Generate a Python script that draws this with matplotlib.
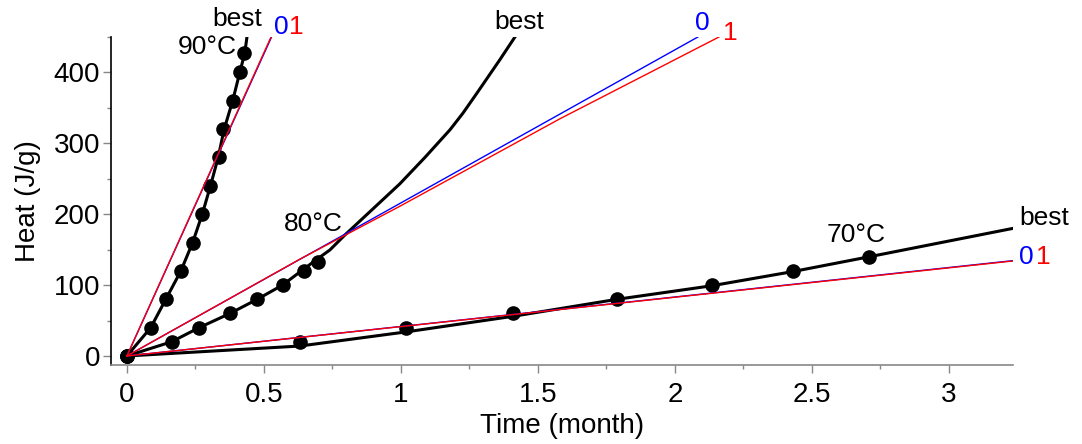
import matplotlib
matplotlib.use("Agg")
import matplotlib.pyplot as plt
from matplotlib.ticker import MultipleLocator

plt.rcParams['font.family'] = ['Liberation Sans', 'DejaVu Sans']

# measured points (time in month, heat in J/g)
t90 = [0, 0.0865, 0.142, 0.197, 0.24, 0.275, 0.305, 0.336, 0.351, 0.386, 0.412, 0.428]
h90 = [0, 40, 80, 120, 160, 200, 240, 280, 320, 360, 400, 427]
t80 = [0, 0.163, 0.264, 0.376, 0.476, 0.568, 0.647, 0.696]
h80 = [0, 20, 40, 60, 80, 100, 120, 132]
t70 = [0, 0.631, 1.018, 1.41, 1.79, 2.134, 2.43, 2.71]
h70 = [0, 20, 40, 60, 80, 100, 120, 140]

# "best" model curves
best90_t = [0, 0.087, 0.142, 0.197, 0.24, 0.275, 0.305, 0.333, 0.355, 0.386, 0.412, 0.430, 0.440]
best90_h = [0, 40, 80, 120, 160, 200, 240, 280, 320, 360, 400, 427, 455]
best80_t = [0, 0.163, 0.264, 0.376, 0.476, 0.568, 0.647, 0.694, 0.741, 0.796, 0.898, 0.996,
            1.088, 1.179, 1.226, 1.277, 1.361, 1.43]
best80_h = [0, 20, 40, 60, 80, 100, 123, 136.5, 149.6, 170.8, 207.5, 242.8,
            280.2, 319, 342.3, 370.5, 417.8, 458]
best70_t = [0, 0.181, 0.631, 1.02, 1.41, 1.79, 2.134, 2.43, 2.71, 3.234]
best70_h = [0, 4, 14, 34, 56, 80, 99, 119, 140, 180]

# model 0 (blue) and model 1 (red)
m0_90_t = [0, 0.528]
m0_90_h = [0, 450]
m1_90_t = [0, 0.526]
m1_90_h = [0, 450]
m0_80_t = [0, 2.084]
m0_80_h = [0, 450]
m1_80_t = [0, 0.631, 1.0, 1.58, 2.161]
m1_80_h = [0, 136.5, 212, 334.5, 450]
m0_70_t = [0, 3.234]
m0_70_h = [0, 134.5]
m1_70_t = [0, 3.234]
m1_70_h = [0, 134.0]

fig = plt.figure(figsize=(10.82, 4.44), dpi=100)
ax = fig.add_axes([0.1026, 0.178, 0.8336, 0.7387])

for bt, bh in [(best90_t, best90_h), (best80_t, best80_h), (best70_t, best70_h)]:
    ax.plot(bt, bh, color='black', lw=2.2, zorder=2)
for tt, hh in [(t90, h90), (t80, h80), (t70, h70)]:
    ax.plot(tt, hh, 'o', color='black', ms=9.5, zorder=3)

for mt, mh in [(m0_90_t, m0_90_h), (m0_80_t, m0_80_h), (m0_70_t, m0_70_h)]:
    ax.plot(mt, mh, color='blue', lw=1.0, zorder=4)
for mt, mh in [(m1_90_t, m1_90_h), (m1_80_t, m1_80_h), (m1_70_t, m1_70_h)]:
    ax.plot(mt, mh, color='red', lw=1.0, zorder=5)

fs = 19
# labels
ax.text(0.403, 475, 'best', fontsize=fs, ha='center', va='center')
ax.text(0.562, 464, '0', fontsize=fs, color='blue', ha='center', va='center')
ax.text(0.620, 464, '1', fontsize=fs, color='red', ha='center', va='center')
ax.text(0.292, 436, '90°C', fontsize=fs, ha='center', va='center')
ax.text(0.682, 186, '80°C', fontsize=fs, ha='center', va='center')
ax.text(1.432, 471, 'best', fontsize=fs, ha='center', va='center')
ax.text(2.10, 470, '0', fontsize=fs, color='blue', ha='center', va='center')
ax.text(2.204, 456, '1', fontsize=fs, color='red', ha='center', va='center')
ax.text(2.66, 170, '70°C', fontsize=fs, ha='center', va='center')
ax.text(3.35, 194, 'best', fontsize=fs, ha='center', va='center')
ax.text(3.281, 139.5, '0', fontsize=fs, color='blue', ha='center', va='center')
ax.text(3.345, 139.5, '1', fontsize=fs, color='red', ha='center', va='center')

ax.set_xlim(-0.058, 3.234)
ax.set_ylim(-12.7, 450)
ax.xaxis.set_minor_locator(MultipleLocator(0.25))
ax.yaxis.set_major_locator(MultipleLocator(100))
ax.yaxis.set_minor_locator(MultipleLocator(50))
ax.set_xticks([0, 0.5, 1, 1.5, 2, 2.5, 3])
ax.set_xticklabels(['0', '0.5', '1', '1.5', '2', '2.5', '3'])

for s in ['top', 'right']:
    ax.spines[s].set_visible(False)
ax.spines['left'].set_color('black')
ax.spines['bottom'].set_color('#888888')
ax.spines['left'].set_linewidth(1.2)
ax.spines['bottom'].set_linewidth(1.2)
ax.tick_params(which='major', direction='out', length=6, width=1, color='#888888',
               labelsize=20)
ax.tick_params(which='minor', direction='out', length=3, width=1, color='#888888')
ax.tick_params(axis='y', pad=2)
ax.tick_params(axis='x', pad=6)

ax.set_xlabel('Time (month)', fontsize=20, labelpad=4)
ax.set_ylabel('Heat (J/g)', fontsize=20, labelpad=9)

fig.savefig('out.png', dpi=100)
